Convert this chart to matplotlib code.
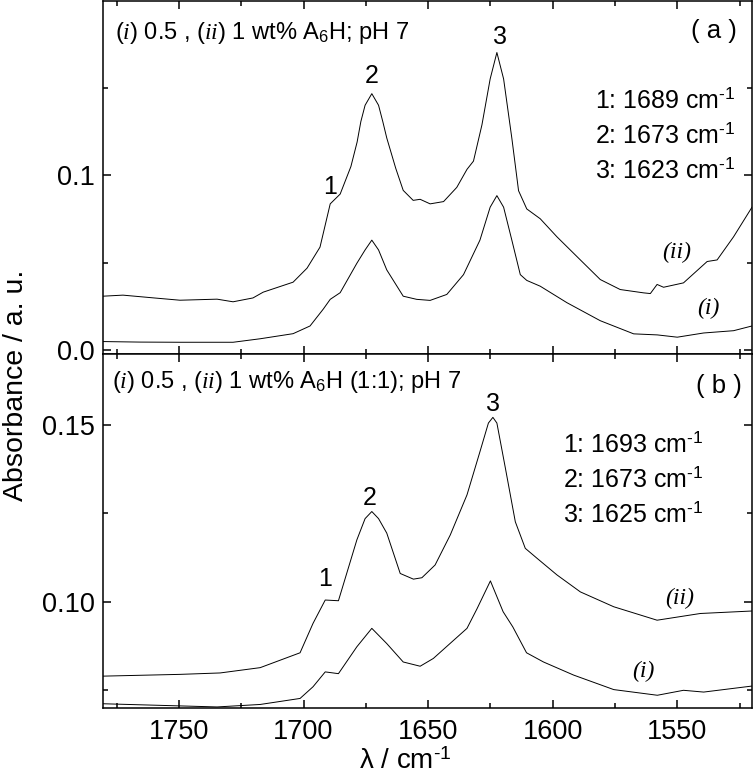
import matplotlib
matplotlib.use('Agg')
import matplotlib.pyplot as plt
from matplotlib.ticker import MultipleLocator, FormatStrFormatter

plt.rcParams['font.family'] = 'Liberation Sans'
plt.rcParams['mathtext.fontset'] = 'custom'
plt.rcParams['mathtext.rm'] = 'Liberation Sans'
plt.rcParams['mathtext.it'] = 'Liberation Serif:italic'

# panel (a): 0.5 / 1 wt% A6H, pH 7
a_ii_x = [1780.5, 1772.5, 1760, 1749.6, 1734.7, 1728.3, 1720.3, 1716.2, 1704.2, 1698.6,
          1693.4, 1689.3, 1685.3, 1681, 1678.5, 1677, 1675.3, 1672.6, 1669.9, 1668.2,
          1666.6, 1663, 1660, 1656, 1653.2, 1649.2, 1643.8, 1638.5, 1634.4, 1631.8,
          1628.4, 1625.1, 1622.4, 1619.7, 1616.4, 1613.7, 1610.4, 1605, 1598.3, 1588.9,
          1580.9, 1572.9, 1563.5, 1560.8, 1558.1, 1555.5, 1547.5, 1538, 1534, 1527.4,
          1520]
a_ii_y = [0.0310, 0.0316, 0.0300, 0.0287, 0.0293, 0.0278, 0.0300, 0.0333, 0.0390, 0.0470,
          0.0590, 0.0837, 0.0893, 0.1050, 0.1190, 0.1307, 0.1400, 0.1466, 0.1400, 0.1307,
          0.1213, 0.1040, 0.0914, 0.0857, 0.0863, 0.0837, 0.0850, 0.0931, 0.1034, 0.1081,
          0.1288, 0.1550, 0.1701, 0.1550, 0.1212, 0.0912, 0.0808, 0.0752, 0.0649, 0.0517,
          0.0405, 0.0348, 0.0329, 0.0325, 0.0377, 0.0361, 0.0386, 0.0508, 0.0517, 0.0649,
          0.0818]

a_i_x = [1780.5, 1765.6, 1749.6, 1728.3, 1717.4, 1704.2, 1697.4, 1692.1, 1689.3, 1685.3,
         1678.6, 1675.3, 1672.6, 1669.9, 1666.6, 1660, 1654.6, 1649.2, 1642.5, 1635.8,
         1629.2, 1625.1, 1622.4, 1619.7, 1616.4, 1613, 1610.4, 1605, 1594.3, 1580.9,
         1567.5, 1558, 1550, 1539.4, 1527.4, 1520]
a_i_y = [0.0051, 0.0048, 0.0047, 0.0047, 0.0067, 0.0096, 0.0140, 0.0236, 0.0292, 0.0330,
         0.0498, 0.0574, 0.0630, 0.0574, 0.0460, 0.0310, 0.0292, 0.0286, 0.0320, 0.0433,
         0.0630, 0.0818, 0.0884, 0.0818, 0.0630, 0.0433, 0.0400, 0.0367, 0.0273, 0.0170,
         0.0095, 0.0089, 0.0076, 0.0100, 0.0113, 0.0140]

# panel (b): 0.5 / 1 wt% A6H (1:1), pH 7
b_ii_x = [1780.5, 1749.6, 1733.5, 1717.4, 1701.4, 1696.2, 1691.3, 1686, 1678.6, 1675.3,
          1672.6, 1669.9, 1666.6, 1661.2, 1655.9, 1652.5, 1647.2, 1641.1, 1634.4, 1629.2,
          1625.8, 1624, 1622.4, 1619, 1615, 1611, 1606.3, 1598.3, 1588.9, 1575.5,
          1558.1, 1540.7, 1520]
b_ii_y = [0.0790, 0.0795, 0.0799, 0.0814, 0.0856, 0.0939, 0.1005, 0.1003, 0.1175, 0.1235,
          0.1255, 0.1235, 0.1194, 0.1080, 0.1064, 0.1068, 0.1104, 0.1189, 0.1302, 0.1424,
          0.1505, 0.1521, 0.1505, 0.1378, 0.1226, 0.1151, 0.1123, 0.1076, 0.1028, 0.0986,
          0.0948, 0.0967, 0.0974]

b_i_x = [1780.5, 1734.7, 1717.4, 1701.4, 1696.2, 1691.3, 1686, 1678.6, 1672.6, 1666.6,
         1660, 1653.2, 1647.9, 1634.4, 1630.4, 1625, 1619.9, 1616, 1610.5, 1603.7,
         1591.6, 1575.5, 1558, 1547.5, 1539.4, 1520]
b_i_y = [0.0712, 0.0703, 0.0710, 0.0727, 0.0760, 0.0802, 0.0797, 0.0873, 0.0925, 0.0882,
         0.0830, 0.0818, 0.0840, 0.0925, 0.0980, 0.1059, 0.0972, 0.0929, 0.0856, 0.0830,
         0.0793, 0.0752, 0.0736, 0.0750, 0.0745, 0.0762]

peaks_a = ['1: 1689', '2: 1673', '3: 1623']
peaks_b = ['1: 1693', '2: 1673', '3: 1625']

fig = plt.figure(figsize=(7.54, 7.75), dpi=100)
ax_a = fig.add_axes([103 / 754, 421 / 775, 649 / 754, 353 / 775])
ax_b = fig.add_axes([103 / 754, 67 / 775, 649 / 754, 354 / 775])

lw = 0.7
ax_a.plot(a_ii_x, a_ii_y, color='black', lw=lw)
ax_a.plot(a_i_x, a_i_y, color='black', lw=lw)
ax_b.plot(b_ii_x, b_ii_y, color='black', lw=lw)
ax_b.plot(b_i_x, b_i_y, color='black', lw=lw)

for ax in (ax_a, ax_b):
    ax.set_xlim(1780.5, 1520)
    ax.xaxis.set_major_locator(MultipleLocator(50))
    ax.xaxis.set_minor_locator(MultipleLocator(25))
    ax.tick_params(which='both', direction='in', top=True, right=True, width=1.1,
                   labelsize=19.5)
    ax.tick_params(which='major', length=6)
    ax.tick_params(which='minor', length=3.5)
    ax.tick_params(axis='x', pad=8)
    ax.tick_params(axis='y', pad=6)
    for sp in ax.spines.values():
        sp.set_linewidth(1.1)

ax_a.set_ylim(-0.002, 0.1995)
ax_a.yaxis.set_major_locator(MultipleLocator(0.1))
ax_a.yaxis.set_minor_locator(MultipleLocator(0.05))
ax_a.yaxis.set_major_formatter(FormatStrFormatter('%.1f'))
ax_a.tick_params(axis='x', labelbottom=False)

ax_b.set_ylim(0.070, 0.170)
ax_b.yaxis.set_major_locator(MultipleLocator(0.05))
ax_b.yaxis.set_minor_locator(MultipleLocator(0.025))
ax_b.yaxis.set_major_formatter(FormatStrFormatter('%.2f'))

sup = r'$^{\text{-1}}$'

# headers
ax_a.text(0.018, 0.892, r'$\mathit{(i)}$ 0.5 , $\mathit{(ii)}$ 1 wt% A$_6$H; pH 7',
          transform=ax_a.transAxes, fontsize=17, va='baseline')
ax_b.text(0.014, 0.905, r'$\mathit{(i)}$ 0.5 , $\mathit{(ii)}$ 1 wt% A$_6$H (1:1); pH 7',
          transform=ax_b.transAxes, fontsize=17, va='baseline')
ax_a.text(0.977, 0.895, '( a )', transform=ax_a.transAxes, fontsize=18.5,
          ha='right', va='baseline')
ax_b.text(0.985, 0.89, '( b )', transform=ax_b.transAxes, fontsize=18.5,
          ha='right', va='baseline')

# peak numbers
for ax, pos in ((ax_a, [(1689.3, 0.0891), (1672.6, 0.1528), (1621, 0.1748)]),
                (ax_b, [(1691.3, 0.1045), (1673.5, 0.1274), (1623.8, 0.1540)])):
    for k, (px, py) in enumerate(pos):
        ax.text(px, py, str(k + 1), fontsize=18, ha='center', va='baseline')

# peak positions list
for k, s in enumerate(peaks_a):
    ax_a.text(0.758, 0.697 - 0.099 * k, s + ' cm' + sup, transform=ax_a.transAxes,
              fontsize=18, va='baseline')
for k, s in enumerate(peaks_b):
    ax_b.text(0.709, 0.724 - 0.099 * k, s + ' cm' + sup, transform=ax_b.transAxes,
              fontsize=18, va='baseline')

# curve labels
serif_it = dict(family='Liberation Serif', style='italic', fontsize=17, va='baseline')
ax_a.text(1556, 0.0525, '(ii)', **serif_it)
ax_a.text(1542, 0.021, '(i)', **serif_it)
ax_b.text(1554.8, 0.0995, '(ii)', **serif_it)
ax_b.text(1568, 0.0788, '(i)', **serif_it)

fig.text(16 / 754, 1 - 385 / 775, 'Absorbance / a. u.', rotation=90, fontsize=20.5,
         ha='center', va='center')
fig.text(405 / 754, 6 / 775, 'λ / cm' + sup, fontsize=20, ha='center', va='baseline')

fig.savefig('out.png', dpi=100)
